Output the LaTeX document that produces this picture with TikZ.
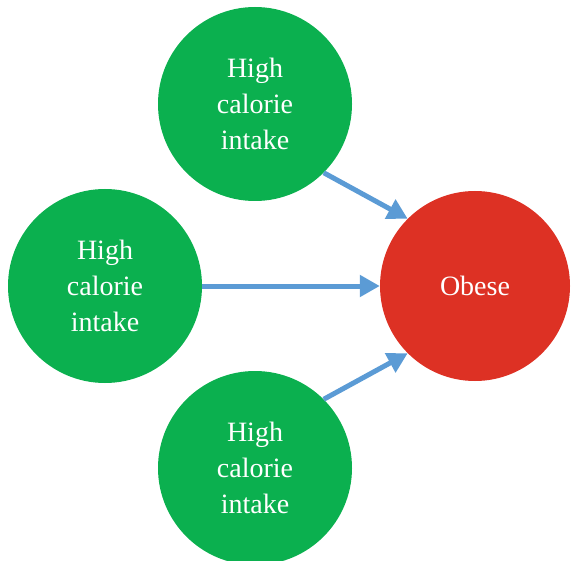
\documentclass[tikz,border=0pt]{standalone}
\usepackage{fontspec}
\setmainfont{Liberation Serif}
\usetikzlibrary{arrows.meta}
\definecolor{cgreen}{HTML}{0BB04F}
\definecolor{cred}{HTML}{DD3124}
\definecolor{cblue}{HTML}{5B9BD5}
\begin{document}
\begin{tikzpicture}[x=1pt,y=-1pt,
  bubble/.style={circle,fill=cgreen,minimum size=194pt,inner sep=0pt,text=white,align=center,
    font=\fontsize{28}{36}\selectfont},
  target/.style={circle,fill=cred,minimum size=190pt,inner sep=0pt,text=white,align=center,
    font=\fontsize{28}{36}\selectfont},
  arr/.style={draw=cblue,line width=5pt,-{Triangle[length=20pt,width=21pt]}}]
\useasboundingbox (0,0) rectangle (572,561);
\node[bubble] (top) at (255,104) {High\\calorie\\intake};
\node[bubble] (left) at (105,286) {High\\calorie\\intake};
\node[bubble] (bot) at (255,468) {High\\calorie\\intake};
\node[target] (ob) at (475,286) {Obese};
\draw[arr] (top.-45) -- (ob.135);
\draw[arr] (left.east) -- (ob.west);
\draw[arr] (bot.45) -- (ob.225);
\end{tikzpicture}
\end{document}
